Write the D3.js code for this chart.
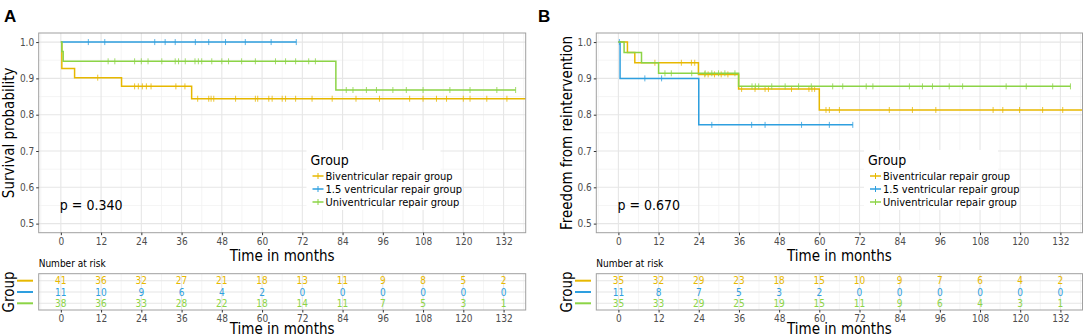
<!DOCTYPE html>
<html>
<head>
<meta charset="utf-8">
<script src="https://cdn.jsdelivr.net/npm/d3@7"></script>
<style>
  body { margin: 0; background: #fff; }
  text { font-family: "Liberation Sans Narrow", "DejaVu Sans Condensed", sans-serif; }
</style>
</head>
<body>
<svg id="chart" width="1084" height="334"></svg>
<script>
// ---- data ----
const groupNames = ["Biventricular repair group", "1.5 ventricular repair group", "Univentricular repair group"];
const groupColors = ["#E7B800", "#2E9FDF", "#8CD446"];
const timeTicks = [0, 12, 24, 36, 48, 60, 72, 84, 96, 108, 120, 132];
const probTicks = [0.5, 0.6, 0.7, 0.8, 0.9, 1.0];

// Panel A : survival. steps = [time, probability], curve runs to `end`
const biA_steps = [[0, 1], [0.3, 0.927], [4.1, 0.902], [18.1, 0.878], [39, 0.844]];
const biA_end = 142;
const biA_censor = [11, 22, 23.1, 24.3, 25.5, 26.9, 34.3, 37, 40.8, 44.1, 44.8, 45.6, 52.1, 58, 58.7, 62, 63, 66, 67, 70, 74.9, 80.9, 88, 95, 104, 108, 112, 115, 120, 122, 127, 133];
const onePtFiveA_steps = [[0, 1]];
const onePtFiveA_end = 70.2;
const onePtFiveA_censor = [8.2, 13.1, 28, 31.1, 34.1, 40.1, 44.1, 49.1, 55, 62.7, 70.2];
const uniA_steps = [[0, 1], [0.3, 0.974], [0.7, 0.947], [82, 0.868]];
const uniA_end = 135.6;
const uniA_censor = [14.1, 16.1, 22, 24, 26, 30.1, 34.1, 35.1, 37.1, 40, 41, 42, 45, 48, 50, 53.9, 58, 64, 67, 70, 73.9, 75.9, 85.1, 87.1, 91.1, 94.1, 99, 103, 108, 116, 122, 130, 135.6];
const riskA = [
  [41, 36, 32, 27, 21, 18, 13, 11, 9, 8, 5, 2],
  [11, 10, 9, 6, 4, 2, 0, 0, 0, 0, 0, 0],
  [38, 36, 33, 28, 22, 18, 14, 11, 7, 5, 3, 1]
];

// Panel B : freedom from reintervention
const biB_steps = [[0, 1], [2.7, 0.971], [4.9, 0.943], [23.9, 0.911], [35.9, 0.871], [60, 0.813]];
const biB_end = 142;
const biB_censor = [10.9, 18.8, 21.8, 22.8, 25.8, 26.8, 28.7, 30.7, 32.7, 36.8, 40.8, 43.8, 44.8, 51.7, 56.9, 57.8, 58.6, 62, 63, 66, 80.9, 87.8, 94.8, 111.9, 114.8, 119.8, 126.7, 132.7];
const onePtFiveB_steps = [[0, 1], [0.5, 0.9], [24, 0.772]];
const onePtFiveB_end = 70;
const onePtFiveB_censor = [0.3, 7.9, 12.9, 27.9, 39.8, 43.8, 54.7, 63, 70];
const uniB_steps = [[0, 1], [1.7, 0.971], [6.9, 0.943], [12, 0.914], [35.9, 0.878]];
const uniB_end = 135;
const uniB_censor = [13.9, 15.8, 21.9, 25.9, 27.9, 29.9, 31.8, 34.8, 39.9, 40.9, 41.9, 45.8, 49.8, 53.8, 57.6, 64, 67, 74, 76, 86.9, 90.8, 93.8, 98.8, 102.8, 115.8, 121.8, 129.7, 135];
const riskB = [
  [35, 32, 29, 23, 18, 15, 10, 9, 7, 6, 4, 2],
  [11, 8, 7, 5, 3, 2, 0, 0, 0, 0, 0, 0],
  [35, 33, 29, 25, 19, 15, 11, 9, 6, 4, 3, 1]
];

const svg = d3.select("#chart");

const drawPanel = (p) => {
  const top = 33, bottom = 232.7;
  const x = d3.scaleLinear().domain([-6.6, 138.6]).range([p.left, p.right]);
  const y = d3.scaleLinear().domain([0.475, 1.025]).range([bottom, top]);
  const g = svg.append("g");

  // panel letter
  g.append("text").attr("x", p.letterX).attr("y", 22)
    .style("font-family", "Liberation Sans, Arial, sans-serif")
    .style("font-weight", "bold").style("font-size", "17px").text(p.letter);

  // grid
  const minorX = timeTicks.map(t => t - 6).concat([138]);
  const minorY = [0.55, 0.65, 0.75, 0.85, 0.95];
  g.append("rect").attr("x", p.left).attr("y", top)
    .attr("width", p.right - p.left).attr("height", bottom - top).attr("fill", "#fff");
  g.selectAll(".mx").data(minorX).join("line")
    .attr("x1", d => x(d)).attr("x2", d => x(d)).attr("y1", top).attr("y2", bottom)
    .attr("stroke", "#f3f3f3").attr("stroke-width", 0.8);
  g.selectAll(".my").data(minorY).join("line")
    .attr("y1", d => y(d)).attr("y2", d => y(d)).attr("x1", p.left).attr("x2", p.right)
    .attr("stroke", "#f3f3f3").attr("stroke-width", 0.8);
  g.selectAll(".gx").data(timeTicks).join("line")
    .attr("x1", d => x(d)).attr("x2", d => x(d)).attr("y1", top).attr("y2", bottom)
    .attr("stroke", "#e6e6e6").attr("stroke-width", 1.1);
  g.selectAll(".gy").data(probTicks).join("line")
    .attr("y1", d => y(d)).attr("y2", d => y(d)).attr("x1", p.left).attr("x2", p.right)
    .attr("stroke", "#e6e6e6").attr("stroke-width", 1.1);

  // curves
  const clipId = "clip" + p.letter;
  svg.append("clipPath").attr("id", clipId).append("rect")
    .attr("x", p.left).attr("y", top).attr("width", p.right - p.left).attr("height", bottom - top);
  const curves = g.append("g").attr("clip-path", `url(#${clipId})`);
  const line = d3.line().x(d => x(d[0])).y(d => y(d[1])).curve(d3.curveStepAfter);
  p.series.forEach((s, i) => {
    const pts = s.steps.concat([[s.end, s.steps[s.steps.length - 1][1]]]);
    curves.append("path").attr("d", line(pts)).attr("fill", "none")
      .attr("stroke", groupColors[i]).attr("stroke-width", 1.5);
    const bis = d3.bisector(d => d[0]).right;
    curves.selectAll(null).data(s.censor).join("line")
      .attr("x1", d => x(d)).attr("x2", d => x(d))
      .attr("y1", d => y(s.steps[bis(s.steps, d) - 1][1]) - 3)
      .attr("y2", d => y(s.steps[bis(s.steps, d) - 1][1]) + 3)
      .attr("stroke", groupColors[i]).attr("stroke-opacity", 0.8).attr("stroke-width", 1);
  });

  // border
  g.append("rect").attr("x", p.left).attr("y", top)
    .attr("width", p.right - p.left).attr("height", bottom - top)
    .attr("fill", "none").attr("stroke", "#a0a0a0").attr("stroke-width", 1);

  // axes
  const ax = g.append("g").attr("transform", `translate(0,${bottom})`)
    .call(d3.axisBottom(x).tickValues(timeTicks).tickSize(2.5).tickPadding(3));
  const ay = g.append("g").attr("transform", `translate(${p.left},0)`)
    .call(d3.axisLeft(y).tickValues(probTicks).tickFormat(d3.format(".1f")).tickSize(2.5).tickPadding(2));
  [ax, ay].forEach(a => {
    a.select(".domain").remove();
    a.selectAll(".tick line").attr("stroke", "#333");
    a.selectAll(".tick text").attr("fill", "#4d4d4d").style("font-size", "10px");
  });

  g.append("text").attr("x", (p.left + p.right) / 2).attr("y", 261)
    .attr("text-anchor", "middle").style("font-size", "15px").text("Time in months");
  g.append("text").attr("transform", `translate(${p.yTitleX},${(top + bottom) / 2}) rotate(-90)`)
    .attr("text-anchor", "middle").style("font-size", "15px").text(p.yTitle);

  g.append("text").attr("x", x(0) - 1).attr("y", 210)
    .style("font-size", "14px").text(p.pText);

  // legend
  const lg = g.append("g").attr("transform", `translate(${p.legendX},0)`);
  lg.append("rect").attr("x", -4).attr("y", 150).attr("width", 134).attr("height", 60).attr("fill", "#fff");
  lg.append("text").attr("x", 0).attr("y", 165).style("font-size", "14px").text("Group");
  groupNames.forEach((name, i) => {
    const yy = 176 + i * 13;
    lg.append("line").attr("x1", 2).attr("x2", 13).attr("y1", yy).attr("y2", yy)
      .attr("stroke", groupColors[i]).attr("stroke-width", 1.5);
    lg.append("line").attr("x1", 7.5).attr("x2", 7.5).attr("y1", yy - 3).attr("y2", yy + 3)
      .attr("stroke", groupColors[i]).attr("stroke-width", 1);
    lg.append("text").attr("x", 15).attr("y", yy + 4).style("font-size", "11px").text(name);
  });

  // risk table
  const rTop = 273.7, rBottom = 310;
  const ry = d3.scalePoint().domain([0, 1, 2]).range([280.7, 303.3]);
  const rt = g.append("g");
  rt.append("text").attr("x", p.left).attr("y", 267).style("font-size", "10px").text("Number at risk");
  rt.selectAll(".rmx").data(minorX).join("line")
    .attr("x1", d => x(d)).attr("x2", d => x(d)).attr("y1", rTop).attr("y2", rBottom)
    .attr("stroke", "#f3f3f3").attr("stroke-width", 0.8);
  rt.selectAll(".rgx").data(timeTicks).join("line")
    .attr("x1", d => x(d)).attr("x2", d => x(d)).attr("y1", rTop).attr("y2", rBottom)
    .attr("stroke", "#e6e6e6").attr("stroke-width", 1.1);
  rt.selectAll(".rgy").data([0, 1, 2]).join("line")
    .attr("y1", d => ry(d)).attr("y2", d => ry(d)).attr("x1", p.left).attr("x2", p.right)
    .attr("stroke", "#e6e6e6").attr("stroke-width", 1.1);
  rt.append("rect").attr("x", p.left).attr("y", rTop)
    .attr("width", p.right - p.left).attr("height", rBottom - rTop)
    .attr("fill", "none").attr("stroke", "#a0a0a0").attr("stroke-width", 1);
  p.risk.forEach((row, i) => {
    rt.selectAll(null).data(row).join("text")
      .attr("x", (d, j) => x(timeTicks[j])).attr("y", ry(i) + 3.5)
      .attr("text-anchor", "middle").attr("fill", groupColors[i])
      .style("font-size", "10px").text(d => d);
    rt.append("line").attr("x1", p.keyX).attr("x2", p.keyX + 16)
      .attr("y1", ry(i)).attr("y2", ry(i))
      .attr("stroke", groupColors[i]).attr("stroke-width", 2);
  });
  const rax = rt.append("g").attr("transform", `translate(0,${rBottom})`)
    .call(d3.axisBottom(x).tickValues(timeTicks).tickSize(2.5).tickPadding(2));
  rax.select(".domain").remove();
  rax.selectAll(".tick line").attr("stroke", "#333");
  rax.selectAll(".tick text").attr("fill", "#4d4d4d").style("font-size", "10px");
  rt.append("text").attr("x", (p.left + p.right) / 2).attr("y", 334)
    .attr("text-anchor", "middle").style("font-size", "15px").text("Time in months");
  rt.append("text").attr("transform", `translate(${p.yTitleX},${(rTop + rBottom) / 2}) rotate(-90)`)
    .attr("text-anchor", "middle").style("font-size", "15px").text("Group");
};

drawPanel({
  letter: "A", letterX: 4, left: 38.7, right: 525.7, yTitleX: 14, keyX: 17, legendX: 310.5,
  yTitle: "Survival probability", pText: "p = 0.340", risk: riskA,
  series: [
    { steps: biA_steps, end: biA_end, censor: biA_censor },
    { steps: onePtFiveA_steps, end: onePtFiveA_end, censor: onePtFiveA_censor },
    { steps: uniA_steps, end: uniA_end, censor: uniA_censor }
  ]
});
drawPanel({
  letter: "B", letterX: 538, left: 596.3, right: 1082.5, yTitleX: 571.5, keyX: 575, legendX: 868,
  yTitle: "Freedom from reintervention", pText: "p = 0.670", risk: riskB,
  series: [
    { steps: biB_steps, end: biB_end, censor: biB_censor },
    { steps: onePtFiveB_steps, end: onePtFiveB_end, censor: onePtFiveB_censor },
    { steps: uniB_steps, end: uniB_end, censor: uniB_censor }
  ]
});
</script>
</body>
</html>
